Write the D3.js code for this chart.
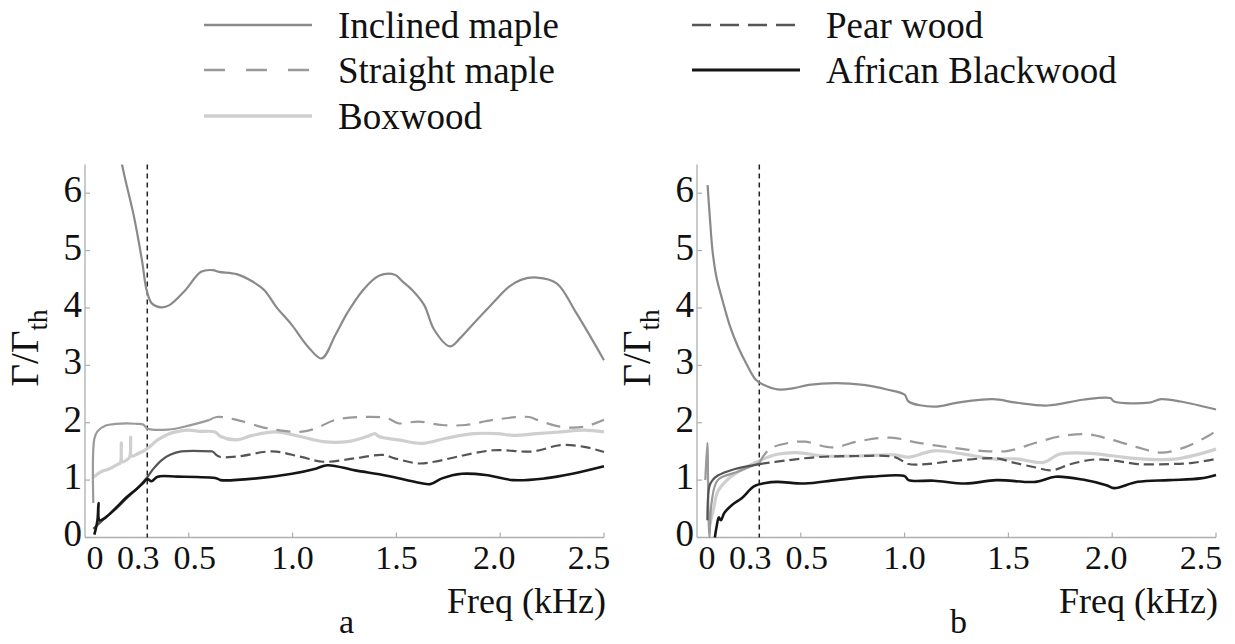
<!DOCTYPE html>
<html><head><meta charset="utf-8">
<script src="https://cdn.jsdelivr.net/npm/d3@7"></script>
<style>body{margin:0;background:#fff}svg{display:block}</style>
</head><body>
<svg id="c" width="1235" height="644"></svg>
<script>
// ---- data ----
const seriesNames = ["Inclined maple","Straight maple","Boxwood","Pear wood","African Blackwood"];
const xTickValues = [0.5,1.0,1.5,2.0,2.5];
const xTickLabels = ["0","0.3","0.5","1.0","1.5","2.0","2.5"];
const xLabelValues = [0,0.3,0.5,1.0,1.5,2.0,2.5];
const yTickValues = [0,1,2,3,4,5,6];
const markerFreq = 0.3;
const panelLabels = ["a","b"];

// panel a
const aInclined = [[0.15,7.2],[0.179,6.49],[0.236,5.59],[0.274,4.84],[0.297,4.31],[0.322,4.08],[0.369,4.01],[0.407,4.05],[0.483,4.31],[0.559,4.63],[0.616,4.66],[0.645,4.63],[0.731,4.59],[0.807,4.46],[0.864,4.31],[0.921,4.02],[0.997,3.70],[1.073,3.33],[1.14,3.12],[1.206,3.53],[1.263,3.91],[1.339,4.31],[1.416,4.56],[1.492,4.58],[1.53,4.46],[1.577,4.31],[1.634,4.05],[1.682,3.62],[1.758,3.33],[1.806,3.47],[1.872,3.73],[1.948,4.02],[2.043,4.37],[2.1,4.49],[2.177,4.53],[2.272,4.43],[2.367,3.91],[2.5,3.09]];
const aStraight = [[0.04,0.6],[0.045,1.72],[0.06,1.85],[0.1,1.95],[0.15,1.98],[0.2,1.99],[0.25,1.98],[0.28,1.97],[0.3,1.9],[0.4,1.88],[0.5,1.95],[0.6,2.05],[0.635,2.1],[0.731,2.05],[0.883,1.9],[1.035,1.84],[1.111,1.9],[1.206,2.05],[1.339,2.1],[1.454,2.08],[1.511,1.99],[1.606,2.02],[1.72,1.96],[1.834,1.96],[1.967,2.05],[2.139,2.1],[2.177,2.05],[2.291,1.93],[2.405,1.93],[2.5,2.05]];
const aBoxwood = [[0.04,1.05],[0.08,1.15],[0.12,1.2],[0.16,1.28],[0.17,1.3],[0.175,1.65],[0.18,1.32],[0.2,1.35],[0.215,1.4],[0.22,1.75],[0.225,1.42],[0.25,1.45],[0.3,1.55],[0.35,1.7],[0.4,1.8],[0.45,1.85],[0.5,1.87],[0.55,1.85],[0.626,1.84],[0.654,1.76],[0.731,1.7],[0.807,1.78],[0.921,1.84],[1.035,1.76],[1.149,1.67],[1.263,1.67],[1.358,1.76],[1.396,1.81],[1.416,1.76],[1.511,1.7],[1.625,1.64],[1.739,1.73],[1.872,1.81],[1.986,1.81],[2.062,1.78],[2.177,1.81],[2.291,1.84],[2.405,1.87],[2.5,1.84]];
const aPear = [[0.04,0.15],[0.1,0.35],[0.15,0.5],[0.2,0.68],[0.25,0.85],[0.3,1.05],[0.33,1.2],[0.37,1.35],[0.41,1.44],[0.464,1.5],[0.616,1.5],[0.645,1.41],[0.731,1.41],[0.902,1.5],[1.035,1.41],[1.149,1.32],[1.301,1.38],[1.435,1.44],[1.492,1.38],[1.606,1.29],[1.682,1.32],[1.796,1.41],[1.967,1.52],[2.158,1.5],[2.291,1.61],[2.405,1.58],[2.5,1.49]];
const aBlack = [[0.045,0.05],[0.06,0.3],[0.065,0.6],[0.07,0.3],[0.1,0.35],[0.15,0.52],[0.2,0.7],[0.25,0.85],[0.28,0.95],[0.3,1.02],[0.32,0.98],[0.35,1.06],[0.445,1.06],[0.635,1.03],[0.654,1.0],[0.826,1.03],[0.997,1.11],[1.111,1.2],[1.168,1.26],[1.301,1.17],[1.435,1.09],[1.49,1.05],[1.587,0.97],[1.663,0.93],[1.72,1.03],[1.815,1.11],[1.929,1.09],[2.062,1.0],[2.215,1.03],[2.348,1.11],[2.5,1.24]];

// panel b
const bInclined = [[0.051,6.14],[0.062,5.57],[0.075,4.99],[0.094,4.53],[0.123,4.13],[0.16,3.67],[0.198,3.32],[0.236,3.04],[0.283,2.75],[0.321,2.66],[0.387,2.58],[0.462,2.6],[0.538,2.66],[0.67,2.69],[0.802,2.66],[0.915,2.58],[1.0,2.49],[1.019,2.37],[1.142,2.28],[1.255,2.35],[1.425,2.41],[1.538,2.35],[1.689,2.3],[1.858,2.4],[1.991,2.43],[2.009,2.37],[2.179,2.35],[2.236,2.41],[2.33,2.37],[2.5,2.23]];
const bStraight = [[0.04,1.0],[0.05,1.65],[0.055,0.4],[0.06,0.0],[0.07,0.6],[0.1,1.0],[0.2,1.15],[0.3,1.3],[0.349,1.54],[0.443,1.65],[0.519,1.67],[0.651,1.57],[0.783,1.68],[0.934,1.74],[1.066,1.65],[1.217,1.57],[1.368,1.51],[1.5,1.51],[1.632,1.65],[1.745,1.76],[1.877,1.8],[1.991,1.71],[2.123,1.57],[2.236,1.48],[2.349,1.57],[2.462,1.77],[2.5,1.86]];
const bBoxwood = [[0.06,0.2],[0.08,0.5],[0.1,0.8],[0.15,1.02],[0.2,1.15],[0.25,1.25],[0.302,1.34],[0.387,1.45],[0.481,1.48],[0.613,1.42],[0.764,1.42],[0.953,1.44],[1.019,1.4],[1.142,1.51],[1.292,1.45],[1.425,1.37],[1.538,1.37],[1.67,1.31],[1.745,1.45],[1.877,1.47],[2.009,1.42],[2.142,1.37],[2.311,1.37],[2.5,1.54]];
const bPear = [[0.05,0.3],[0.06,0.9],[0.075,1.0],[0.1,1.08],[0.179,1.19],[0.302,1.28],[0.425,1.34],[0.575,1.4],[0.764,1.42],[0.953,1.4],[1.019,1.28],[1.104,1.28],[1.255,1.34],[1.443,1.38],[1.519,1.31],[1.632,1.22],[1.708,1.17],[1.802,1.28],[1.915,1.36],[2.009,1.34],[2.123,1.28],[2.274,1.28],[2.387,1.3],[2.5,1.37]];
const bBlack = [[0.086,0.0],[0.095,0.2],[0.105,0.35],[0.115,0.3],[0.132,0.43],[0.17,0.57],[0.217,0.69],[0.274,0.89],[0.33,0.95],[0.387,0.97],[0.519,0.94],[0.67,1.0],[0.84,1.06],[1.0,1.07],[1.019,1.0],[1.142,0.99],[1.292,0.94],[1.443,1.0],[1.632,0.97],[1.726,1.06],[1.858,1.01],[1.972,0.91],[2.009,0.86],[2.123,0.97],[2.274,1.0],[2.425,1.03],[2.5,1.09]];

// ---- styles ----
const styles = [
  {color:"#8a8a8a", width:2.2, dash:null, legendDash:null},
  {color:"#9a9a9a", width:2.2, dash:"14,9", legendDash:"21,21"},
  {color:"#cfcfcf", width:3.2, dash:null, legendDash:null},
  {color:"#555555", width:2.2, dash:"10,5", legendDash:"19,9"},
  {color:"#151515", width:2.6, dash:null, legendDash:null}
];
const panelData = [
  [aInclined,aStraight,aBoxwood,aPear,aBlack],
  [bInclined,bStraight,bBoxwood,bPear,bBlack]
];
const panelLeft = [85, 697];
const solidUntil = [0.63, 0.32];
const panelWidth = 519;
const yBottom = 537.5, yTop = 164.5;
const font = "'Liberation Serif', 'Times New Roman', serif";

const svg = d3.select("#c");
const drawOrder = [2,1,3,0,4];

panelData.forEach((series, pi) => {
  const x = d3.scaleLinear().domain([0,2.5]).range([panelLeft[pi], panelLeft[pi]+panelWidth]);
  const y = d3.scaleLinear().domain([0,6.5]).range([yBottom, yTop]);
  const g = svg.append("g");
  const clipId = "clip"+pi;
  svg.append("clipPath").attr("id",clipId).append("rect")
    .attr("x", x.range()[0]).attr("y", yTop).attr("width", panelWidth+4).attr("height", yBottom-yTop+2);

  // axes
  const axisColor = "#aeaeae";
  g.append("line").attr("x1",x.range()[0]).attr("x2",x.range()[0]).attr("y1",yTop).attr("y2",yBottom)
    .attr("stroke",axisColor).attr("stroke-width",1.3);
  g.append("line").attr("x1",x.range()[0]).attr("x2",x.range()[1]).attr("y1",yBottom).attr("y2",yBottom)
    .attr("stroke",axisColor).attr("stroke-width",1.3);
  g.selectAll(".yt").data(yTickValues).enter().append("line")
    .attr("x1",x.range()[0]).attr("x2",x.range()[0]+5).attr("y1",d=>y(d)).attr("y2",d=>y(d))
    .attr("stroke",axisColor).attr("stroke-width",1.2);
  g.selectAll(".xt").data(xTickValues).enter().append("line")
    .attr("x1",d=>x(d)).attr("x2",d=>x(d)).attr("y1",yBottom).attr("y2",yBottom-5)
    .attr("stroke",axisColor).attr("stroke-width",1.2);
  g.selectAll(".yl").data(yTickValues).enter().append("text")
    .attr("x",x.range()[0]-3).attr("y",d=>y(d)-4).attr("dy","0.35em")
    .attr("text-anchor","end").attr("font-family",font).attr("font-size",37).attr("fill","#111")
    .text(d=>d);
  const xOff = [10,-9,6,0,0,-6,-15];
  g.selectAll(".xl").data(xLabelValues).enter().append("text")
    .attr("x",(d,i)=>x(d)+xOff[i]).attr("y",557).attr("dy","0.35em")
    .attr("text-anchor","middle").attr("font-family",font).attr("font-size",34).attr("fill","#111")
    .text((d,i)=>xTickLabels[i]);

  // y title
  const yt = g.append("text").attr("transform",`translate(${x.range()[0]-47},348) rotate(-90)`)
    .attr("text-anchor","middle").attr("font-family",font).attr("font-size",39).attr("fill","#111");
  yt.append("tspan").text("\u0393/\u0393");
  yt.append("tspan").attr("font-size",27).attr("dy",9).text("th");

  // x title & panel label
  g.append("text").attr("x",x.range()[1]+2).attr("y",600).attr("dy","0.35em").attr("text-anchor","end")
    .attr("font-family",font).attr("font-size",36).attr("fill","#111").text("Freq (kHz)");
  g.append("text").attr("x",(x.range()[0]+x.range()[1])/2+2).attr("y",621).attr("dy","0.35em").attr("text-anchor","middle")
    .attr("font-family",font).attr("font-size",34).attr("fill","#111").text(panelLabels[pi]);

  // marker line
  g.append("line").attr("x1",x(markerFreq)).attr("x2",x(markerFreq)).attr("y1",yTop).attr("y2",yBottom)
    .attr("stroke","#222").attr("stroke-width",1.5).attr("stroke-dasharray","5,4");

  const line = d3.line().x(d=>x(d[0])).y(d=>y(d[1])).curve(d3.curveCatmullRom.alpha(0.5));
  const lg = g.append("g").attr("clip-path",`url(#${clipId})`);
  drawOrder.forEach(si => {
    const s = styles[si];
    const pts = series[si];
    if (s.dash) {
      // dense noisy start looks solid in the original; dashes after
      const cut = solidUntil[pi];
      const head = pts.filter(d=>d[0] <= cut);
      const tail = pts.filter(d=>d[0] >= cut);
      if (head.length && tail.length && head[head.length-1][0] < tail[0][0]) tail.unshift(head[head.length-1]);
      lg.append("path").datum(head).attr("d",line).attr("fill","none")
        .attr("stroke",s.color).attr("stroke-width",s.width).attr("stroke-linejoin","round");
      lg.append("path").datum(tail).attr("d",line).attr("fill","none")
        .attr("stroke",s.color).attr("stroke-width",s.width)
        .attr("stroke-dasharray",s.dash).attr("stroke-linejoin","round");
    } else {
      lg.append("path").datum(pts).attr("d",line).attr("fill","none")
        .attr("stroke",s.color).attr("stroke-width",s.width).attr("stroke-linejoin","round");
    }
  });
});

// legend
const legendPos = [[204,25],[204,70],[204,116],[692,25],[692,70]];
const lgd = svg.append("g");
seriesNames.forEach((name,i)=>{
  const [lx,ly] = legendPos[i];
  const s = styles[i];
  lgd.append("line").attr("x1",lx).attr("x2",lx+108).attr("y1",ly).attr("y2",ly)
    .attr("stroke",s.color).attr("stroke-width",s.width+0.5).attr("stroke-dasharray",s.legendDash);
  lgd.append("text").attr("x",lx+134).attr("y",ly).attr("dy","0.35em")
    .attr("font-family",font).attr("font-size",37).attr("fill","#111").text(name);
});
</script>
</body></html>
